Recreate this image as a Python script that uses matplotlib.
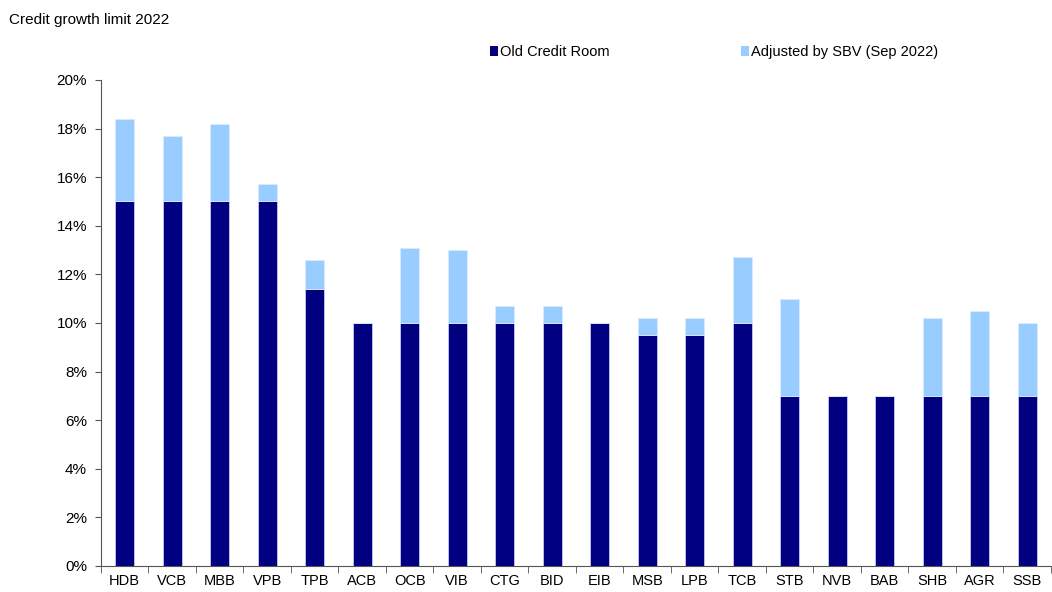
import matplotlib.pyplot as plt
import numpy as np
from matplotlib.ticker import FuncFormatter

plt.rcParams['font.family'] = ['Liberation Sans', 'DejaVu Sans']

# Banks and credit room (%)
banks = ['HDB', 'VCB', 'MBB', 'VPB', 'TPB', 'ACB', 'OCB', 'VIB', 'CTG', 'BID',
         'EIB', 'MSB', 'LPB', 'TCB', 'STB', 'NVB', 'BAB', 'SHB', 'AGR', 'SSB']
old_room = [15, 15, 15, 15, 11.4, 10, 10, 10, 10, 10,
            10, 9.5, 9.5, 10, 7, 7, 7, 7, 7, 7]
adjusted_total = [18.4, 17.7, 18.2, 15.7, 12.6, 10, 13.1, 13.0, 10.7, 10.7,
                  10, 10.2, 10.2, 12.7, 11.0, 7, 7, 10.2, 10.5, 10.0]

added = np.array(adjusted_total) - np.array(old_room)
x = np.arange(len(banks))

fig = plt.figure(figsize=(10.52, 5.92), dpi=100)
ax = fig.add_axes([0.096, 0.044, 0.903, 0.821])

ax.bar(x, old_room, width=0.4, color='#000080', edgecolor='#c8c8f0', linewidth=0.6,
       label='Old Credit Room')
ax.bar(x, added, bottom=old_room, width=0.4, color='#99CCFF', edgecolor='#d8ecff',
       linewidth=0.6, label='Adjusted by SBV (Sep 2022)')

ax.set_ylim(0, 20)
ax.set_yticks(np.arange(0, 21, 2))
ax.yaxis.set_major_formatter(FuncFormatter(lambda v, p: f'{v:.0f}%'))
ax.set_xlim(-0.5, len(banks) - 0.5)
ax.set_xticks(x)
ax.set_xticklabels(banks)
ax.set_xticks(np.arange(-0.5, len(banks), 1), minor=True)
ax.tick_params(axis='x', which='major', length=0, pad=6, labelsize=10.5)
ax.tick_params(axis='x', which='minor', length=5, direction='out', color='#555555')
ax.tick_params(axis='y', length=4, direction='out', labelsize=11, pad=6, color='#555555')

for s in ['top', 'right']:
    ax.spines[s].set_visible(False)
for s in ['left', 'bottom']:
    ax.spines[s].set_color('#555555')
    ax.spines[s].set_linewidth(0.8)

fig.text(0.009, 0.967, 'Credit growth limit 2022', fontsize=11, va='center')

leg = ax.legend(loc='center', bbox_to_anchor=(0.645, 1.057), ncol=2, frameon=False,
                handlelength=0.6, handleheight=0.6, handletextpad=0.1,
                columnspacing=9.0, fontsize=10.5)
for h in leg.legend_handles:
    h.set_edgecolor('none')

fig.savefig('out.png', dpi=100)
